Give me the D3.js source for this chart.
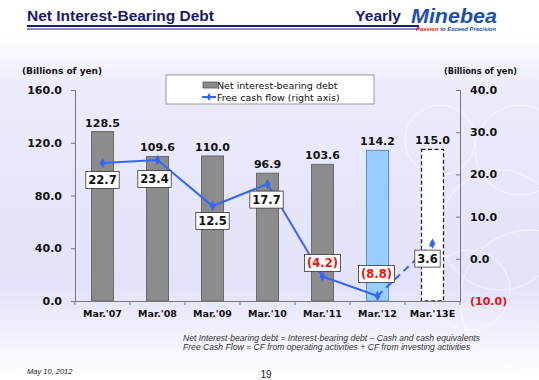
<!DOCTYPE html>
<html lang="en">
<head>
<meta charset="UTF-8">
<script src="https://cdnjs.cloudflare.com/ajax/libs/d3/7.8.5/d3.min.js"></script>
<title>Net Interest-Bearing Debt</title>
<style>
  body { margin: 0; background: #fff; }
  svg { display: block; }
</style>
</head>
<body>
<script>
    // data
    const years = ["Mar.'07", "Mar.'08", "Mar.'09", "Mar.'10", "Mar.'11", "Mar.'12", "Mar.'13E"];
    const debt = [128.5, 109.6, 110.0, 96.9, 103.6, 114.2, 115.0];
    const fcf = [22.7, 23.4, 12.5, 17.7, -4.2, -8.8, 3.6];
    const leftTicks = [0, 40, 80, 120, 160];
    const rightTicks = [-10, 0, 10, 20, 30, 40];

    const W = 539, H = 380;
    const svg = d3.select("body").append("svg").attr("width", W).attr("height", H);

    // background
    const defs = svg.append("defs");
    const bg = defs.append("linearGradient").attr("id", "bg").attr("x1", 0).attr("y1", 0).attr("x2", 0).attr("y2", 1);
    bg.append("stop").attr("offset", "0%").attr("stop-color", "#ffffff");
    bg.append("stop").attr("offset", "9%").attr("stop-color", "#ffffff");
    bg.append("stop").attr("offset", "22%").attr("stop-color", "#ececfc");
    bg.append("stop").attr("offset", "75%").attr("stop-color", "#e2e2fa");
    bg.append("stop").attr("offset", "100%").attr("stop-color", "#ffffff");
    svg.append("rect").attr("width", W).attr("height", H).attr("fill", "url(#bg)");

    // faint rings on the right
    const rings = [[520, 150, 45], [500, 230, 60], [530, 300, 70], [470, 290, 40], [440, 140, 35]];
    svg.selectAll(".ring").data(rings).enter().append("circle")
        .attr("cx", d => d[0]).attr("cy", d => d[1]).attr("r", d => d[2])
        .attr("fill", "none").attr("stroke", "#ffffff").attr("stroke-opacity", 0.6).attr("stroke-width", 1);

    // header
    svg.append("text").attr("x", 27).attr("y", 21)
        .attr("font-family", "Liberation Sans, Arial").attr("font-weight", "bold").attr("font-size", 15.5)
        .attr("fill", "#1a1a6a").text("Net Interest-Bearing Debt");
    svg.append("text").attr("x", 401).attr("y", 21).attr("text-anchor", "end")
        .attr("font-family", "Liberation Sans, Arial").attr("font-weight", "bold").attr("font-size", 15.5)
        .attr("fill", "#1a1a6a").text("Yearly");
    svg.append("rect").attr("x", 27).attr("y", 25).attr("width", 392).attr("height", 2).attr("fill", "#1a1a80");
    svg.append("rect").attr("x", 27).attr("y", 28.5).attr("width", 392).attr("height", 1).attr("fill", "#1a1a80");

    // logo
    svg.append("text").attr("x", 411).attr("y", 23)
        .attr("font-family", "Liberation Sans, Arial").attr("font-weight", "bold").attr("font-style", "italic")
        .attr("font-size", 20).attr("fill", "#1f4fa8")
        .attr("textLength", 86).attr("lengthAdjust", "spacingAndGlyphs").text("Minebea");
    const tag = svg.append("text").attr("x", 416).attr("y", 31)
        .attr("font-family", "Liberation Sans, Arial").attr("font-weight", "bold").attr("font-style", "italic")
        .attr("font-size", 6).attr("textLength", 80).attr("lengthAdjust", "spacingAndGlyphs");
    tag.append("tspan").attr("fill", "#e02020").text("Passion ");
    tag.append("tspan").attr("fill", "#1f4fa8").text("to Exceed Precision");

    // plot area
    const m = { left: 75, right: 460, top: 90, bottom: 301 };
    const x = d3.scaleBand().domain(years).range([m.left, m.right]);
    const yL = d3.scaleLinear().domain([0, 160]).range([m.bottom, m.top]);
    const yR = d3.scaleLinear().domain([-10, 40]).range([m.bottom, m.top]);

    const chartFont = "DejaVu Sans, Verdana";

    // unit labels
    svg.append("text").attr("x", 22).attr("y", 74).attr("font-family", chartFont)
        .attr("font-weight", "bold").attr("font-size", 9).attr("fill", "#111").text("(Billions of yen)");
    svg.append("text").attr("x", 517).attr("y", 74).attr("text-anchor", "end").attr("font-family", chartFont)
        .attr("font-weight", "bold").attr("font-size", 8).attr("fill", "#111")
        .attr("textLength", 73).attr("lengthAdjust", "spacingAndGlyphs").text("(Billions of yen)");

    // bars
    const barW = 22;
    const fills = ["#8c8c8c", "#8c8c8c", "#8c8c8c", "#8c8c8c", "#8c8c8c", "#99ccff", "#ffffff"];
    const strokes = ["#6a6a6a", "#6a6a6a", "#6a6a6a", "#6a6a6a", "#6a6a6a", "#5a8fc8", "#222"];
    svg.selectAll(".bar").data(debt).enter().append("rect")
        .attr("class", "bar")
        .attr("x", (d, i) => x(years[i]) + x.bandwidth() / 2 - barW / 2)
        .attr("y", d => yL(d))
        .attr("width", barW)
        .attr("height", d => yL(0) - yL(d))
        .attr("fill", (d, i) => fills[i])
        .attr("stroke", (d, i) => strokes[i])
        .attr("stroke-width", (d, i) => i === 6 ? 1.3 : 1)
        .attr("stroke-dasharray", (d, i) => i === 6 ? "4,2.5" : null);

    svg.selectAll(".barlab").data(debt).enter().append("text")
        .attr("x", (d, i) => x(years[i]) + x.bandwidth() / 2)
        .attr("y", d => yL(d) - 5)
        .attr("text-anchor", "middle").attr("font-family", chartFont)
        .attr("font-weight", "bold").attr("font-size", 11).attr("fill", "#111")
        .text(d => d.toFixed(1));

    // axes
    const axisCol = "#777";
    const gL = svg.append("g").attr("transform", `translate(${m.left},0)`)
        .call(d3.axisLeft(yL).tickValues(leftTicks).tickSize(4).tickFormat(d => d.toFixed(1)));
    gL.selectAll("text").attr("font-family", chartFont).attr("font-weight", "bold").attr("font-size", 11).attr("fill", "#111").attr("dx", -6);
    const gR = svg.append("g").attr("transform", `translate(${m.right},0)`)
        .call(d3.axisRight(yR).tickValues(rightTicks).tickSize(-4)
            .tickFormat(d => d < 0 ? "(" + Math.abs(d).toFixed(1) + ")" : d.toFixed(1)));
    gR.selectAll("text").attr("font-family", chartFont).attr("font-weight", "bold").attr("font-size", 11)
        .attr("fill", d => d < 0 ? "#ee1111" : "#111").attr("x", 10);
    const gX = svg.append("g").attr("transform", `translate(0,${m.bottom})`)
        .call(d3.axisBottom(x).tickSize(0).tickPadding(9));
    gX.selectAll("text").attr("font-family", chartFont).attr("font-weight", "bold").attr("font-size", 9.5).attr("fill", "#111");
    // category boundary ticks
    gX.selectAll(".sep").data(d3.range(years.length + 1)).enter().append("line")
        .attr("x1", i => m.left + i * x.step()).attr("x2", i => m.left + i * x.step())
        .attr("y1", 0).attr("y2", 4).attr("stroke", axisCol);
    [gL, gR, gX].forEach(g => {
        g.selectAll(".domain").attr("stroke", axisCol);
        g.selectAll(".tick line").attr("stroke", axisCol);
    });

    // free cash flow line
    const pts = fcf.map((v, i) => [x(years[i]) + x.bandwidth() / 2, yR(v)]);
    const line = d3.line();
    svg.append("path").attr("d", line(pts.slice(0, 6))).attr("fill", "none")
        .attr("stroke", "#3366ff").attr("stroke-width", 2);
    svg.append("path").attr("d", line(pts.slice(5))).attr("fill", "none")
        .attr("stroke", "#3366ff").attr("stroke-width", 2).attr("stroke-dasharray", "7,5");
    svg.selectAll(".pt").data(pts).enter().append("path")
        .attr("transform", d => `translate(${d[0]},${d[1]})`)
        .attr("d", d3.symbol(d3.symbolDiamond, 30)).attr("fill", "#3366ff");

    // value boxes, offsets relative to the point
    const boxOff = [[0, 17], [-3, 19], [0, 15], [-1, 15.5], [0, -13.5], [-1, -22], [-5, 15]];
    const boxes = svg.selectAll(".box").data(fcf).enter().append("g")
        .attr("transform", (d, i) => `translate(${pts[i][0] + boxOff[i][0]},${pts[i][1] + boxOff[i][1]})`);
    boxes.append("text")
        .attr("text-anchor", "middle").attr("dy", "0.36em").attr("font-family", chartFont)
        .attr("font-weight", "bold").attr("font-size", 11.5)
        .attr("fill", d => d < 0 ? "#ee1111" : "#111")
        .text(d => d < 0 ? "(" + Math.abs(d).toFixed(1) + ")" : d.toFixed(1));
    boxes.each(function () {
        const g = d3.select(this);
        const bb = g.select("text").node().getBBox();
        g.insert("rect", "text").attr("x", bb.x - 2.5).attr("y", -8.5)
            .attr("width", bb.width + 5).attr("height", 17)
            .attr("fill", "#fff").attr("stroke", "#333").attr("stroke-width", 0.8);
    });

    // legend
    const lg = svg.append("g");
    lg.append("rect").attr("x", 166).attr("y", 75).attr("width", 208).attr("height", 29)
        .attr("fill", "#fff").attr("stroke", "#999");
    lg.append("rect").attr("x", 203).attr("y", 82).attr("width", 14).attr("height", 6)
        .attr("fill", "#8c8c8c").attr("stroke", "#555").attr("stroke-width", 0.8);
    lg.append("text").attr("x", 217).attr("y", 88.5).attr("font-family", chartFont)
        .attr("font-size", 9.5).attr("fill", "#111").text("Net interest-bearing debt");
    lg.append("line").attr("x1", 202).attr("x2", 216).attr("y1", 97).attr("y2", 97)
        .attr("stroke", "#3366ff").attr("stroke-width", 2);
    lg.append("path").attr("transform", "translate(209,97)").attr("d", d3.symbol(d3.symbolDiamond, 18)).attr("fill", "#3366ff");
    lg.append("text").attr("x", 217).attr("y", 100.5).attr("font-family", chartFont)
        .attr("font-size", 9.5).attr("fill", "#111").text("Free cash flow (right axis)");

    // footnotes
    const notes = ["Net Interest-bearing debt = Interest-bearing debt \u2013 Cash and cash equivalents",
        "Free Cash Flow = CF from operating activities + CF from investing activities"];
    svg.selectAll(".note").data(notes).enter().append("text")
        .attr("x", 183).attr("y", (d, i) => 341 + i * 9)
        .attr("font-family", "Liberation Sans, Arial").attr("font-style", "italic")
        .attr("font-size", 8.6).attr("fill", "#333").text(d => d);

    svg.append("text").attr("x", 27).attr("y", 374).attr("font-family", "Liberation Sans, Arial")
        .attr("font-style", "italic").attr("font-size", 7.5).attr("fill", "#222").text("May 10, 2012");
    svg.append("text").attr("x", 266).attr("y", 378).attr("text-anchor", "middle").attr("font-family", "Liberation Sans, Arial")
        .attr("font-size", 10).attr("fill", "#222").text("19");
</script>
</body>
</html>
